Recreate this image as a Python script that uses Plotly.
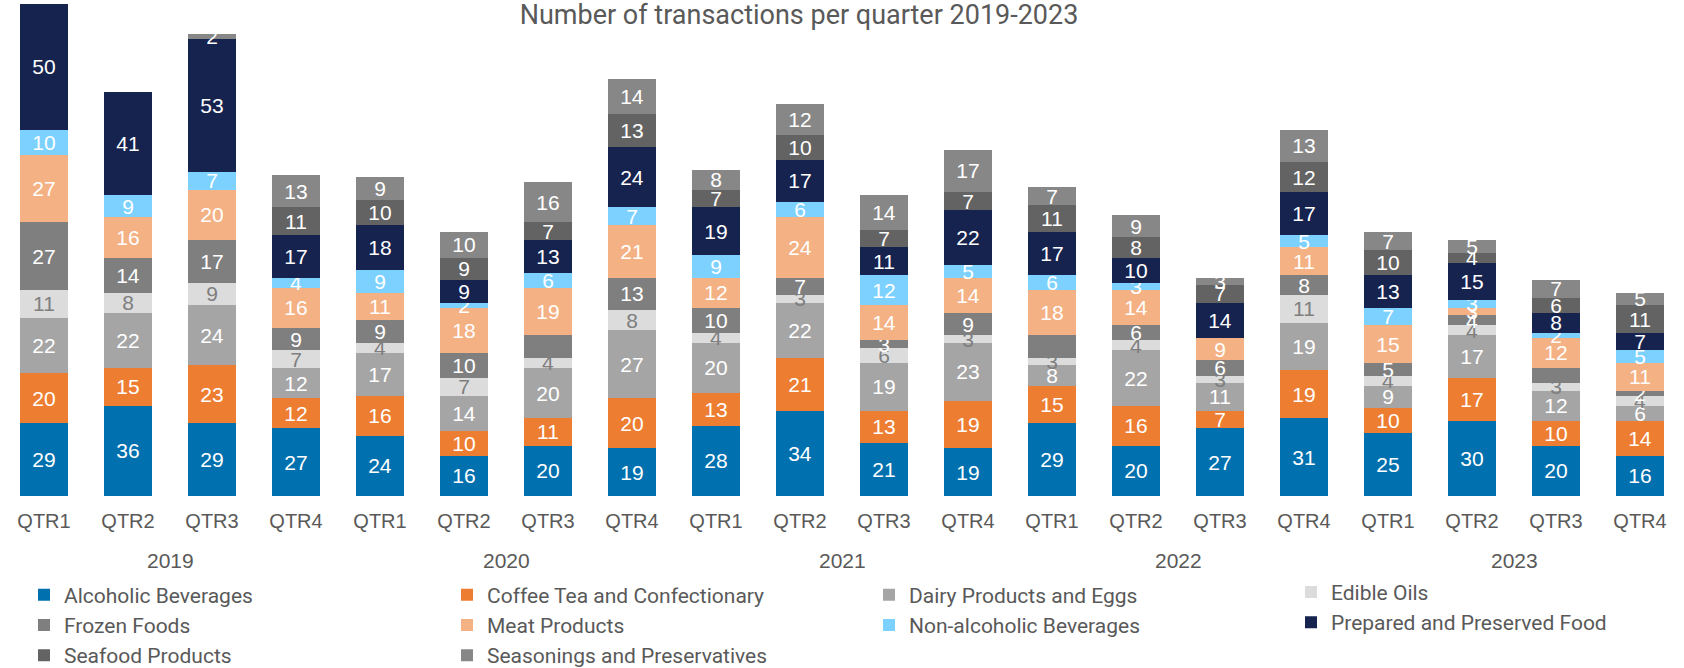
import plotly.graph_objects as go

quarters = ["QTR1", "QTR2", "QTR3", "QTR4"] * 5
years = ["2019", "2020", "2021", "2022", "2023"]

alcoholic = [29, 36, 29, 27, 24, 16, 20, 19, 28, 34, 21, 19, 29, 20, 27, 31, 25, 30, 20, 16]
coffee = [20, 15, 23, 12, 16, 10, 11, 20, 13, 21, 13, 19, 15, 16, 7, 19, 10, 17, 10, 14]
dairy = [22, 22, 24, 12, 17, 14, 20, 27, 20, 22, 19, 23, 8, 22, 11, 19, 9, 17, 12, 6]
edible = [11, 8, 9, 7, 4, 7, 4, 8, 4, 3, 6, 3, 3, 4, 3, 11, 4, 4, 3, 4]
frozen = [27, 14, 17, 9, 9, 10, 9, 13, 10, 7, 3, 9, 9, 6, 6, 8, 5, 4, 6, 2]
meat = [27, 16, 20, 16, 11, 18, 19, 21, 12, 24, 14, 14, 18, 14, 9, 11, 15, 3, 12, 11]
nonalc = [10, 9, 7, 4, 9, 2, 6, 7, 9, 6, 12, 5, 6, 3, 0, 5, 7, 3, 2, 5]
prepared = [50, 41, 53, 17, 18, 9, 13, 24, 19, 17, 11, 22, 17, 10, 14, 17, 13, 15, 8, 7]
seafood = [0, 0, 0, 11, 10, 9, 7, 13, 7, 10, 7, 7, 11, 8, 7, 12, 10, 4, 6, 11]
seasonings = [0, 0, 2, 13, 9, 10, 16, 14, 8, 12, 14, 17, 7, 9, 3, 13, 7, 5, 7, 5]

# frozen-food labels that are not shown in the original
frozen_hidden = [6, 12, 18]

# (name, values, colour, label colour, legend column)
series = [
    ("Alcoholic Beverages", alcoholic, "#0070AE", "white", "legend"),
    ("Coffee Tea and Confectionary", coffee, "#ED7D31", "white", "legend2"),
    ("Dairy Products and Eggs", dairy, "#A5A5A5", "white", "legend3"),
    ("Edible Oils", edible, "#DCDCDC", "#7F7F7F", "legend4"),
    ("Frozen Foods", frozen, "#7F7F7F", "white", "legend"),
    ("Meat Products", meat, "#F4B183", "white", "legend2"),
    ("Non-alcoholic Beverages", nonalc, "#7DD1FF", "white", "legend3"),
    ("Prepared and Preserved Food", prepared, "#16234F", "white", "legend4"),
    ("Seafood Products", seafood, "#636363", "white", "legend"),
    ("Seasonings and Preservatives", seasonings, "#878787", "white", "legend2"),
]

x = list(range(len(quarters)))
fig = go.Figure()
for name, vals, color, tcolor, leg in series:
    labels = []
    for i, v in enumerate(vals):
        if v <= 0 or (name == "Frozen Foods" and i in frozen_hidden):
            labels.append("")
        else:
            labels.append(str(v))
    fig.add_trace(go.Bar(
        x=x, y=vals, name=name, legend=leg,
        marker=dict(color=color, line=dict(width=0)),
        text=labels, textposition="inside", insidetextanchor="middle",
        textangle=0,
        textfont=dict(family="Liberation Sans, Arial, sans-serif", size=21, color=tcolor),
        hoverinfo="skip",
    ))

annotations = []
for k, yr in enumerate(years):
    annotations.append(dict(
        x=4 * k + 1.5, xref="x", y=-0.131, yref="paper",
        text=yr, showarrow=False, yanchor="middle",
        font=dict(family="Liberation Sans, Arial, sans-serif", size=21, color="#595959"),
    ))


def leg(xpx, ytop):
    return dict(
        orientation="v", traceorder="normal",
        x=xpx / 1684, xref="container", xanchor="left",
        y=ytop, yref="container", yanchor="top",
        font=dict(family="Roboto, sans-serif", size=21, color="#595959"),
        bgcolor="rgba(0,0,0,0)", tracegroupgap=0, itemsizing="constant",
    )


fig.update_layout(
    width=1684, height=668,
    barmode="stack", bargap=0.4286,
    paper_bgcolor="white", plot_bgcolor="white",
    margin=dict(l=2, r=2, t=4, b=172, pad=0, autoexpand=False),
    title=dict(
        text="Number of transactions per quarter 2019-2023",
        x=0.4745, xref="container", xanchor="center",
        y=0.9775, yref="container", yanchor="middle",
        font=dict(family="Roboto, sans-serif", size=27, color="#595959"),
    ),
    xaxis=dict(
        tickmode="array", tickvals=x, ticktext=quarters,
        range=[-0.5, len(x) - 0.5], showgrid=False, zeroline=False,
        showline=False, ticks="",
        tickfont=dict(family="Liberation Sans, Arial, sans-serif", size=20, color="#595959"),
        ticklabelstandoff=11,
    ),
    yaxis=dict(range=[0, 196], visible=False),
    legend=leg(24, 0.140),
    legend2=leg(447, 0.140),
    legend3=leg(869, 0.140),
    legend4=leg(1291, 0.144),
    uniformtext=dict(minsize=21, mode="show"),
    annotations=annotations,
    showlegend=True,
)

fig.write_html("out.html", config={"displayModeBar": False},
               post_script="document.body.style.margin='0';")
